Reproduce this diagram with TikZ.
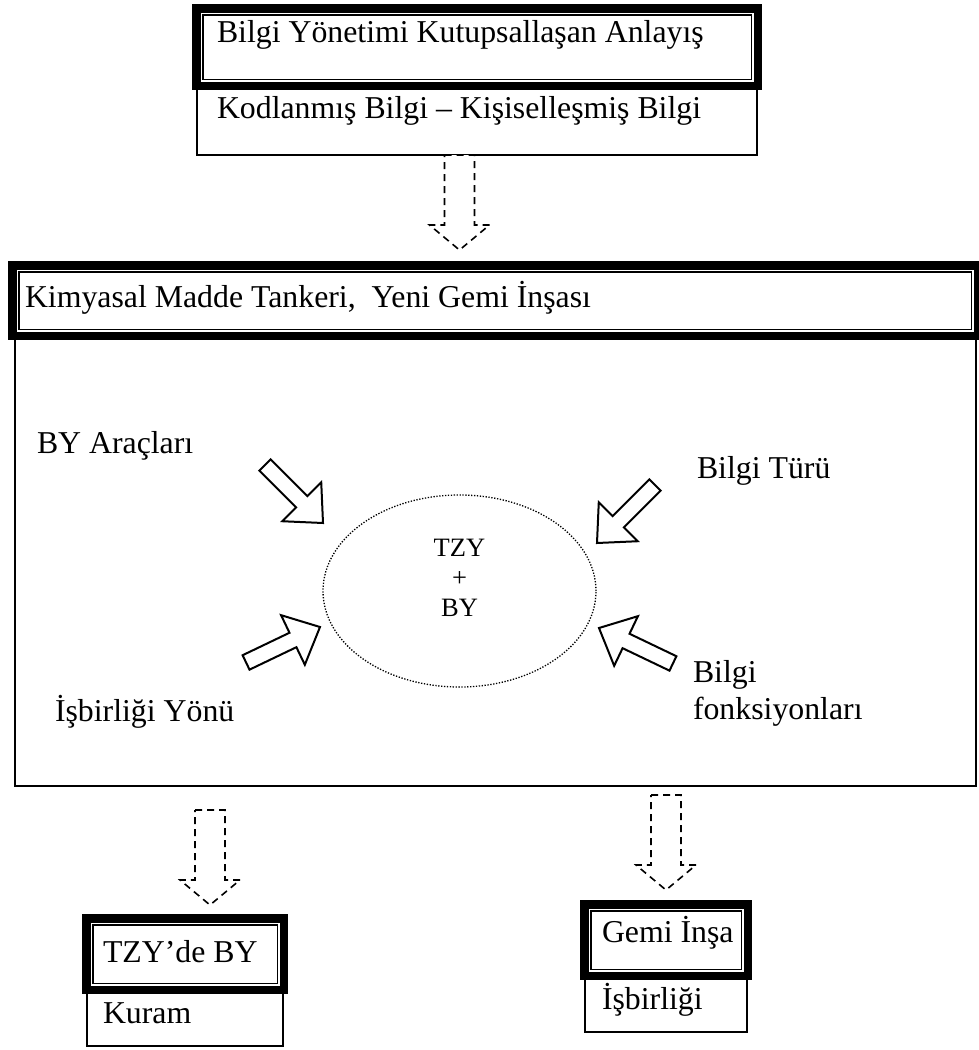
\documentclass[tikz,border=0pt]{standalone}
\usepackage{fontspec}
\setmainfont{Liberation Serif}
\usetikzlibrary{shapes.geometric}
% heavy outer band of a thick-thin frame, drawn around the thin inner rectangle of a node
\newcommand\ttframe[1]{%
  \draw[thickline] ([shift={(-6.5pt,6.5pt)}]#1.north west) rectangle ([shift={(6.5pt,-6.5pt)}]#1.south east);}
\begin{document}
\frenchspacing
\begin{tikzpicture}[x=1pt,y=-1pt,
  every node/.style={inner sep=0pt,outer sep=0pt},
  txt/.style={anchor=base west,font=\fontsize{31.8}{36.5}\selectfont},
  coretxt/.style={align=center,font=\fontsize{26.5}{30}\selectfont},
  plainbox/.style={draw,line width=2.2pt,anchor=north west,fill=white},
  innerbox/.style={draw,line width=1.5pt,anchor=north west,fill=white},
  thickline/.style={line width=8.5pt,line join=miter},
  flowarrow/.style={draw,fill=white,line width=1.6pt,dash pattern=on 7pt off 5pt,line join=miter},
  blockarrow/.style={draw,fill=white,line width=2pt,line join=miter},
  ring/.style={draw,line width=1.3pt,dash pattern=on 1.3pt off 1.6pt},
  hollowdown/.pic={
    \path[flowarrow] (-15,0) -- (15,0) -- (15,70) -- (30,70) -- (0,95) -- (-30,70) -- (-15,70) -- cycle;},
  fatarrow/.pic={
    \path[blockarrow] (0,0) -- (-30,-27.5) -- (-30,-8) -- (-82,-8) -- (-82,8) -- (-30,8) -- (-30,27.5) -- cycle;}
]
\useasboundingbox (0,0) rectangle (979,1050);

% top pair of boxes
\node[plainbox,minimum width=560,minimum height=69.25] (code) at (197,85.75) {};
\node[innerbox,minimum width=548.5,minimum height=64.5] (head1) at (202.75,14.75) {};
\ttframe{head1}
\node[txt] (t1) at (217,42) {Bilgi Yönetimi Kutupsallaşan Anlayış};
\node[txt] (t2) at (217,118) {Kodlanmış Bilgi – Kişiselleşmiş Bilgi};

% central panel
\node[plainbox,minimum width=961,minimum height=450.25] (panel) at (15,335.75) {};
\node[innerbox,minimum width=952.5,minimum height=57.5] (head2) at (18.75,271.75) {};
\ttframe{head2}
\node[txt] (t3) at (25,307) {Kimyasal Madde Tankeri,\ \ Yeni Gemi İnşası};

\node[ring,ellipse,minimum width=273,minimum height=192] (core) at (459.5,591) {};
\node[coretxt] (coretext) at (459.5,578) {TZY\\+\\BY};

\pic[rotate=-45] at (323,523) {fatarrow};
\pic[rotate=-135] at (597,543) {fatarrow};
\pic[rotate=25.6] at (320,627) {fatarrow};
\pic[rotate=154.4] at (599,628) {fatarrow};

\node[txt] (l1) at (37,453) {BY Araçları};
\node[txt] (l2) at (697,478) {Bilgi Türü};
\node[txt] (l3) at (55,721) {İşbirliği Yönü};
% the base anchor of a two-line node sits on its last line
\node[txt,align=left] (l4) at (693,719) {Bilgi\\fonksiyonları};

% bottom left pair
\node[plainbox,minimum width=196,minimum height=56.25] (kuram) at (87,989.75) {};
\node[innerbox,minimum width=184.5,minimum height=58.5] (head3) at (92.75,924.75) {};
\ttframe{head3}
\node[txt] (t4) at (103,962) {TZY’de BY};
\node[txt] (t5) at (103,1023) {Kuram};

% bottom right pair
\node[plainbox,minimum width=162,minimum height=56.25] (isb) at (585,975.75) {};
\node[innerbox,minimum width=150.5,minimum height=58.5] (head4) at (590.75,910.75) {};
\ttframe{head4}
\node[txt] (t6) at (602,942) {Gemi İnşa};
\node[txt] (t7) at (602,1009) {İşbirliği};

% dashed flow arrows
\pic at (core.center |- code.south) {hollowdown};
\pic at (210,810) {hollowdown};
\pic at (666,795) {hollowdown};
\end{tikzpicture}
\end{document}
